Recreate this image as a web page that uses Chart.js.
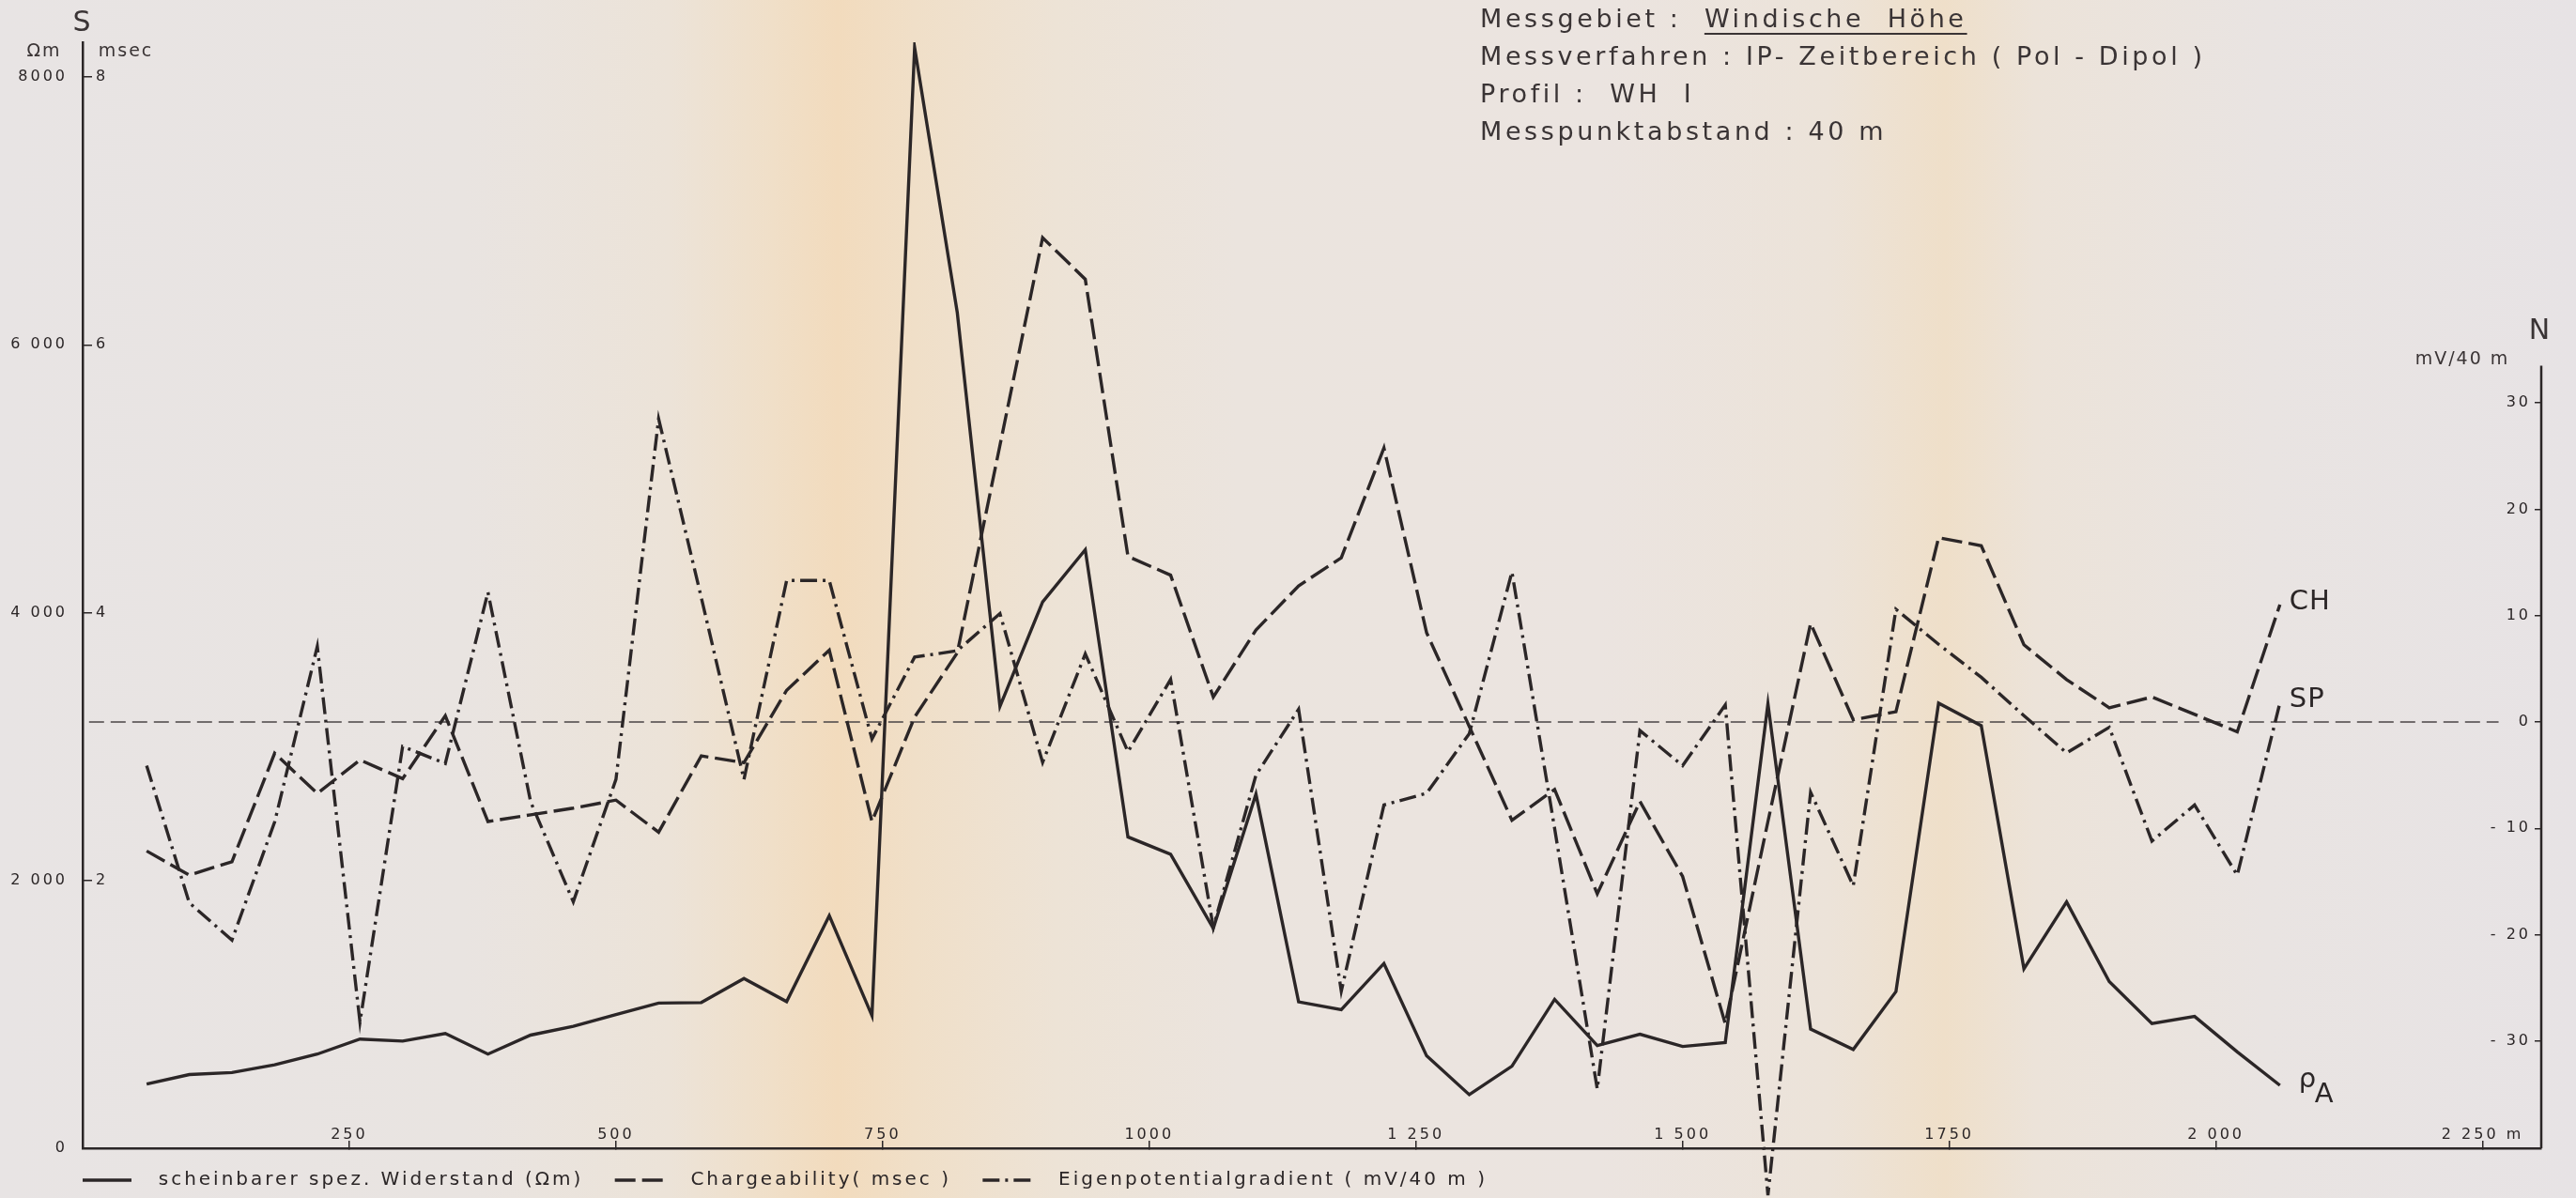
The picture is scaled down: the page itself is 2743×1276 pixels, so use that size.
<!DOCTYPE html>
<html lang="de">
<head>
<meta charset="utf-8">
<title>Windische Höhe – Profil WH I</title>
<script src="https://cdn.jsdelivr.net/npm/chart.js@4.4.1/dist/chart.umd.min.js"></script>
<style>
  html, body { margin: 0; padding: 0; }
  body {
    width: 2743px; height: 1276px; overflow: hidden; position: relative;
    font-family: "DejaVu Sans", sans-serif; color: #3a3435;
    background: linear-gradient(90deg,
      #e8e4e4 0%, #e9e4e1 18%, #ece3d8 26%, #f0dfc8 30%, #f2dbbd 32.5%,
      #f0dfc8 35.5%, #ede3d6 41%, #ebe4de 48%, #ebe4e0 62%, #ece3d9 71%,
      #efdfc9 75.5%, #ece3d9 79%, #e9e4e2 88%, #e7e3e5 100%);
  }
  #chart { position: absolute; left: 0; top: 0; }
  .lbl { position: absolute; white-space: nowrap; transform: translate(-50%, -50%); letter-spacing: 2px; }
  .big { font-size: 30px; }
  .unit { font-size: 19px; }
  .info { position: absolute; left: 1576px; top: 0; font-size: 27px; line-height: 40px; letter-spacing: 3.6px; white-space: pre; }
  .info u { text-decoration-thickness: 2px; text-underline-offset: 6px; }
</style>
</head>
<body>
<canvas id="chart" width="2743" height="1276"></canvas>

<div class="lbl big" style="left:88px; top:22px;">S</div>
<div class="lbl unit" style="left:47px; top:53px;">Ωm</div>
<div class="lbl unit" style="left:134px; top:53px;">msec</div>
<div class="lbl big" style="left:2705px; top:350px;">N</div>
<div class="lbl unit" style="left:2622px; top:381px;">mV/40 m</div>

<div class="info">Messgebiet :  <u>Windische  Höhe</u>
Messverfahren : IP- Zeitbereich ( Pol - Dipol )
Profil :  WH  I
Messpunktabstand : 40 m</div>

<script>
// Messpunkte entlang des Profils (m)
const stationsM = [60, 100, 140, 180, 220, 260, 300, 340, 380, 420, 460, 500, 540, 580, 620, 660, 700,
  740, 780, 820, 860, 900, 940, 980, 1020, 1060, 1100, 1140, 1180, 1220, 1260, 1300, 1340, 1380,
  1420, 1460, 1500, 1540, 1580, 1620, 1660, 1700, 1740, 1780, 1820, 1860, 1900, 1940, 1980, 2020, 2060];

// scheinbarer spez. Widerstand (Ωm)
const resistivity = [480, 550, 565, 623, 703, 815, 800, 857, 703, 845, 911, 999, 1084, 1088, 1268, 1095, 1737,
  990, 8220, 6240, 3300, 4080, 4470, 2325, 2195, 1642, 2645, 1093, 1035, 1380, 690, 400, 613, 1112,
  767, 851, 760, 790, 3320, 890, 738, 1170, 3324, 3156, 1340, 1840, 1245, 931, 984, 720, 470];

// Chargeability (msec)
const chargeability = [2.22, 2.04, 2.14, 2.95, 2.65, 2.90, 2.76, 3.23, 2.44, 2.49, 2.54, 2.60, 2.36, 2.93, 2.88, 3.42, 3.72,
  2.44, 3.22, 3.70, 5.25, 6.80, 6.49, 4.42, 4.28, 3.37, 3.87, 4.20, 4.41, 5.23, 3.85, 3.15, 2.45, 2.68,
  1.90, 2.59, 2.03, 0.93, 2.44, 3.92, 3.20, 3.26, 4.56, 4.50, 3.76, 3.50, 3.29, 3.37, 3.24, 3.11, 4.06];

// Eigenpotentialgradient (mV/40 m)
const spGradient = [-4.1, -17.0, -20.5, -9.4, 7.1, -28.2, -2.3, -3.9, 12.2, -7.5, -16.9, -5.4, 28.5, 11.7, -5.4, 13.3, 13.3,
  -1.6, 6.1, 6.7, 10.2, -3.8, 6.4, -2.8, 4.0, -19.3, -5.0, 1.2, -25.3, -7.8, -6.7, -1.1, 14.1, -10.0,
  -34.5, -0.8, -4.1, 1.6, -44.5, -6.6, -15.4, 10.6, 7.3, 4.2, 0.6, -2.9, -0.5, -11.2, -7.8, -14.4, 1.8];

// Nulllinie des Eigenpotentials
const zeroLineM = [6, 2265];
const zeroLineMv = [0, 0];

// Achsen
const distanceTicks = [250, 500, 750, 1000, 1250, 1500, 1750, 2000, 2250];
const distanceLabels = ['250', '500', '750', '1000', '1 250', '1 500', '1750', '2 000', '2 250 m'];
const ohmTicks = [0, 2000, 4000, 6000, 8000];
const ohmLabels = ['0', '2 000', '4 000', '6 000', '8000'];
const msecTicks = [2, 4, 6, 8];
const msecLabels = ['2', '4', '6', '8'];
const mvTicks = [-30, -20, -10, 0, 10, 20, 30];
const mvLabels = ['- 30', '- 20', '- 10', '0', '10', '20', '30'];

const ink = '#2b2627';
const pairs = ys => stationsM.map((x, i) => ({ x, y: ys[i] }));

// Beschriftungen liegen teils ausserhalb der Achsenbox -> nicht abschneiden
const noLabelClip = s => { s._computeLabelArea = () => undefined; };

// Laufweite der Schrift wie auf der Vorlage
const letterSpacing = {
  id: 'letterSpacing',
  beforeUpdate(chart) { chart.ctx.letterSpacing = '3px'; },
  beforeDraw(chart) { chart.ctx.letterSpacing = '3px'; }
};

// rechte Achse (N) beginnt erst bei ca. 33 mV
const rightAxisLine = {
  id: 'rightAxisLine',
  afterDraw(chart) {
    const s = chart.scales.yr;
    const ctx = chart.ctx;
    ctx.save();
    ctx.strokeStyle = ink;
    ctx.lineWidth = 2.5;
    ctx.beginPath();
    ctx.moveTo(s.left, s.getPixelForValue(33.5));
    ctx.lineTo(s.left, chart.chartArea.bottom);
    ctx.stroke();
    ctx.restore();
  }
};

// Kurzbezeichnungen am Ende der Kurven
const endLabels = {
  id: 'endLabels',
  afterDatasetsDraw(chart) {
    const ctx = chart.ctx;
    ctx.save();
    ctx.fillStyle = ink;
    ctx.textBaseline = 'middle';
    ctx.font = '29px "DejaVu Sans"';
    ctx.letterSpacing = '1px';
    chart.data.datasets.forEach((ds, i) => {
      if (!ds.tag) return;
      const pts = chart.getDatasetMeta(i).data;
      const p = pts[pts.length - 1];
      if (ds.tag === 'rho') {
        ctx.fillText('ρ', p.x + 20, p.y - 6);
        ctx.fillText('A', p.x + 37, p.y + 10);
      } else {
        ctx.fillText(ds.tag, p.x + 10, p.y - 3);
      }
    });
    ctx.restore();
  }
};

// Legendenlinien mit der Strichart der Kurve
const legendItems = chart =>
  Chart.defaults.plugins.legend.labels.generateLabels(chart)
    .filter(item => item.datasetIndex < 3)
    .map(item => {
      const ds = chart.data.datasets[item.datasetIndex];
      item.lineDash = ds.borderDash || [];
      item.lineWidth = ds.borderWidth;
      item.strokeStyle = ds.borderColor;
      return item;
    });

Chart.defaults.font.family = '"DejaVu Sans", sans-serif';
Chart.defaults.color = ink;

new Chart(document.getElementById('chart'), {
  type: 'line',
  data: {
    datasets: [
      {
        label: '  scheinbarer spez. Widerstand (Ωm) ',
        data: pairs(resistivity), yAxisID: 'y', tag: 'rho',
        borderColor: ink, borderWidth: 3.4, pointRadius: 0
      },
      {
        label: '  Chargeability( msec ) ',
        data: pairs(chargeability), yAxisID: 'ym', tag: 'CH',
        borderColor: ink, borderWidth: 3.4, borderDash: [22, 7], pointRadius: 0
      },
      {
        label: '  Eigenpotentialgradient ( mV/40 m )',
        data: pairs(spGradient), yAxisID: 'yr', tag: 'SP', clip: false,
        borderColor: ink, borderWidth: 3.4, borderDash: [18, 6, 3, 6], pointRadius: 0
      },
      {
        label: 'Nulllinie',
        data: zeroLineM.map((x, i) => ({ x, y: zeroLineMv[i] })), yAxisID: 'yr',
        borderColor: '#4a4445', borderWidth: 1.5, borderDash: [16, 7], pointRadius: 0
      }
    ]
  },
  options: {
    responsive: false,
    animation: false,
    layout: { padding: { left: 64, right: 0, top: 45, bottom: -1 } },
    plugins: {
      tooltip: { enabled: false },
      legend: {
        position: 'bottom',
        align: 'start',
        labels: {
          usePointStyle: true, pointStyle: 'line', pointStyleWidth: 52,
          padding: 24, color: ink, font: { size: 20 },
          generateLabels: legendItems
        }
      }
    },
    scales: {
      x: {
        type: 'linear', min: 0, max: 2305,
        afterBuildTicks: s => { s.ticks = distanceTicks.map(v => ({ value: v })); },
        afterFit: s => { s.height = 0; noLabelClip(s); },
        ticks: {
          callback: (v, i) => distanceLabels[i],
          padding: -16, maxRotation: 0, autoSkip: false,
          font: { size: 16 }, color: ink
        },
        grid: { display: true, drawOnChartArea: false, tickLength: -8, color: ink, lineWidth: 1.5 },
        border: { display: true, color: ink, width: 2.5 }
      },
      y: {
        position: 'left', weight: 1, min: 0, max: 8260,
        afterBuildTicks: s => { s.ticks = ohmTicks.map(v => ({ value: v })); },
        afterFit: s => { s.width = 24; noLabelClip(s); },
        ticks: { callback: (v, i) => ohmLabels[i], padding: 26, font: { size: 16 }, color: ink },
        grid: { display: true, drawOnChartArea: false, tickLength: -10, color: ink, lineWidth: 1.5 },
        border: { display: true, color: ink, width: 2.5 }
      },
      ym: {
        position: 'left', weight: 0, min: 0, max: 8.26,
        afterBuildTicks: s => { s.ticks = msecTicks.map(v => ({ value: v })); },
        afterFit: s => { s.width = 0; },
        ticks: { mirror: true, callback: (v, i) => msecLabels[i], padding: 14, font: { size: 16 }, color: ink },
        grid: { display: false },
        border: { display: false }
      },
      yr: {
        position: 'right', min: -40.07, max: 63.9,
        afterBuildTicks: s => { s.ticks = mvTicks.map(v => ({ value: v })); },
        afterFit: s => { s.width = 37; },
        ticks: { mirror: true, callback: (v, i) => mvLabels[i], padding: -11, font: { size: 16 }, color: ink },
        grid: { display: true, drawOnChartArea: false, tickLength: -7, color: ink, lineWidth: 1.5 },
        border: { display: false }
      }
    }
  },
  plugins: [letterSpacing, rightAxisLine, endLabels]
});
</script>
</body>
</html>
